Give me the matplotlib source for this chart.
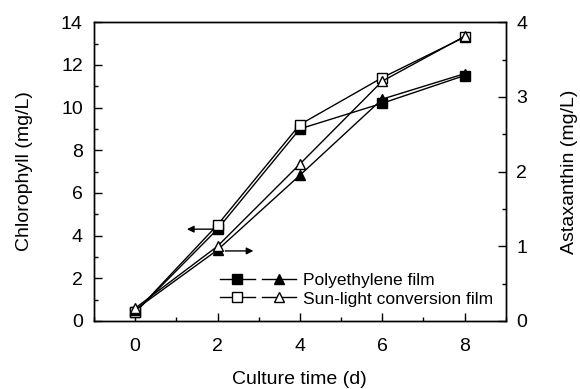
import matplotlib.pyplot as plt
from matplotlib.lines import Line2D
from matplotlib.legend_handler import HandlerTuple
from matplotlib.ticker import MultipleLocator

plt.rcParams['font.family'] = ['Liberation Sans', 'DejaVu Sans']

days = [0, 2, 4, 6, 8]
chl_poly = [0.4, 4.3, 9.0, 10.2, 11.5]
chl_sun = [0.4, 4.5, 9.2, 11.4, 13.3]
ast_poly = [0.15, 0.95, 1.95, 2.97, 3.31]
ast_sun = [0.17, 1.0, 2.1, 3.21, 3.81]

fig = plt.figure(figsize=(5.8, 3.89), dpi=100)
ax = fig.add_axes([0.162, 0.175, 0.710, 0.768])
ax2 = ax.twinx()

kw = dict(color='black', linewidth=1.0, markersize=7, markeredgecolor='black')
ax.plot(days, chl_poly, marker='s', markerfacecolor='black', **kw)
ax.plot(days, chl_sun, marker='s', markerfacecolor='white', **kw)
ax2.plot(days, ast_poly, marker='^', markerfacecolor='black', **kw)
ax2.plot(days, ast_sun, marker='^', markerfacecolor='white', **kw)

ax.set_xlim(-1, 9)
ax.set_ylim(0, 14)
ax2.set_ylim(0, 4)
ax.xaxis.set_major_locator(MultipleLocator(2))
ax.xaxis.set_minor_locator(MultipleLocator(1))
ax.yaxis.set_major_locator(MultipleLocator(2))
ax.yaxis.set_minor_locator(MultipleLocator(1))
ax2.yaxis.set_major_locator(MultipleLocator(1))
ax2.yaxis.set_minor_locator(MultipleLocator(0.5))

for a in (ax, ax2):
    a.tick_params(which='major', direction='in', length=6, width=1, labelsize=14)
    a.tick_params(which='minor', direction='in', length=3, width=1)
    for s in a.spines.values():
        s.set_linewidth(1.0)
ax.tick_params(axis='x', which='major', pad=12)
ax.tick_params(axis='y', which='major', pad=8)
ax2.tick_params(axis='y', which='major', pad=7.5)

ax.set_xlabel('Culture time (d)', fontsize=14, labelpad=12)
ax.set_ylabel('Chlorophyll (mg/L)', fontsize=14, labelpad=20)
ax2.set_ylabel('Astaxanthin (mg/L)', fontsize=14, labelpad=24)

# arrows pointing to the axis each series belongs to
arrow = dict(arrowstyle='-|>', color='black', lw=1.0, mutation_scale=10)
ax.annotate('', xy=(1.19, 4.3), xytext=(1.97, 4.3), arrowprops=arrow)
ax.annotate('', xy=(2.94, 3.28), xytext=(2.12, 3.28), arrowprops=arrow)

def h(marker, face):
    return Line2D([], [], color='black', linewidth=1.0, marker=marker,
                  markerfacecolor=face, markeredgecolor='black', markersize=7)

handles = [(h('s', 'black'), h('^', 'black')), (h('s', 'white'), h('^', 'white'))]
ax.legend(handles, ['Polyethylene film', 'Sun-light conversion film'],
          handler_map={tuple: HandlerTuple(ndivide=None, pad=0.4)},
          loc='lower right', bbox_to_anchor=(0.985, 0.025), frameon=False,
          fontsize=12.5, handlelength=4.4, handletextpad=0.35, labelspacing=0.2,
          borderaxespad=0)

fig.savefig('out.png', dpi=100)
